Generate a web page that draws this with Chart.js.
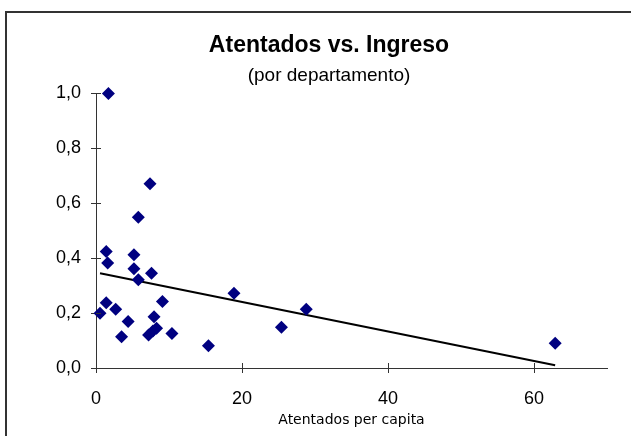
<!DOCTYPE html>
<html>
<head>
<meta charset="utf-8">
<script src="https://cdn.jsdelivr.net/npm/chart.js@4/dist/chart.umd.min.js"></script>
<style>
  html, body { margin: 0; padding: 0; background: #fff; overflow: hidden; }
  #frame { position: absolute; left: 5px; top: 11px; width: 700px; height: 500px; border: 2px solid #333; }
  #graph { position: absolute; left: 0; top: 0; }
</style>
</head>
<body>
<div id="frame"></div>
<canvas id="graph" width="631" height="436"></canvas>
<script>
// atentados per capita (x) vs ingreso (y), one point per departamento
const xValues = [1.7, 7.4, 5.8, 1.4, 1.6, 5.2, 5.2, 5.8, 7.6, 18.9, 28.8, 25.4, 1.4,
                 0.55, 2.7, 9.1, 4.4, 7.95, 8.3, 7.2, 10.4, 3.5, 15.4, 62.9, 7.8];
const yValues = [1.0, 0.671, 0.549, 0.424, 0.382, 0.412, 0.361, 0.321, 0.345, 0.272, 0.214, 0.148, 0.238,
                 0.199, 0.214, 0.242, 0.169, 0.187, 0.145, 0.120, 0.126, 0.114, 0.081, 0.090, 0.135];

// linear trend line as drawn in the picture
const trendX = [0.55, 62.9];
const trendY = [0.345, 0.01];

const xTickValues = [0, 20, 40, 60];
const xTickLabels = ['0', '20', '40', '60'];
const yTickValues = [0, 0.2, 0.4, 0.6, 0.8, 1.0];
const yTickLabels = ['0,0', '0,2', '0,4', '0,6', '0,8', '1,0'];

const FONT = "'Liberation Sans', Arial, sans-serif";
const AXIS = '#333';

// Excel style "cross" tick marks: the part inside the plot area
const innerTicks = {
    id: 'innerTicks',
    afterDraw(chart) {
        const ctx = chart.ctx, area = chart.chartArea;
        ctx.save();
        ctx.strokeStyle = AXIS;
        ctx.lineWidth = 1;
        ctx.beginPath();
        for (const v of xTickValues) {
            const px = Math.round(chart.scales.x.getPixelForValue(v)) + 0.5;
            ctx.moveTo(px, area.bottom);
            ctx.lineTo(px, area.bottom - 5);
        }
        for (const v of yTickValues) {
            const py = Math.round(chart.scales.y.getPixelForValue(v)) + 0.5;
            ctx.moveTo(area.left, py);
            ctx.lineTo(area.left + 5, py);
        }
        ctx.stroke();
        ctx.restore();
    }
};

const chart = new Chart(document.getElementById('graph'), {
    type: 'scatter',
    data: {
        datasets: [{
            data: xValues.map((x, i) => ({x: x, y: yValues[i]})),
            backgroundColor: '#000080',
            borderColor: '#000080',
            borderWidth: 0,
            pointStyle: 'rectRot',
            pointRadius: 6.5,
            pointHoverRadius: 6.5,
            clip: false
        }, {
            type: 'line',
            data: trendX.map((x, i) => ({x: x, y: trendY[i]})),
            borderColor: '#000',
            borderWidth: 2,
            pointRadius: 0,
            fill: false
        }]
    },
    plugins: [innerTicks],
    options: {
        responsive: false,
        animation: false,
        layout: { padding: { left: 51, right: 24, top: 0, bottom: 0 } },
        plugins: {
            legend: { display: false },
            tooltip: { enabled: false },
            title: {
                display: true,
                text: 'Atentados vs. Ingreso',
                color: '#000',
                font: { family: FONT, size: 23, weight: 'bold' },
                padding: { top: 31.5, bottom: 5.5 }
            },
            subtitle: {
                display: true,
                text: '(por departamento)',
                color: '#000',
                font: { family: FONT, size: 19 },
                padding: { top: 0, bottom: 6 }
            }
        },
        scales: {
            x: {
                type: 'linear',
                min: 0,
                max: 70,
                afterFit: s => { s.height = 68; },
                afterBuildTicks: s => { s.ticks = xTickValues.map(v => ({value: v})); },
                grid: { drawOnChartArea: false, drawTicks: true, tickLength: 5, color: AXIS },
                border: { color: AXIS, width: 1 },
                ticks: {
                    padding: 15,
                    color: '#000',
                    font: { family: FONT, size: 18 },
                    callback: (v, i) => xTickLabels[i]
                },
                title: {
                    display: true,
                    text: 'Atentados per capita',
                    color: '#000',
                    font: { family: "'DejaVu Sans', sans-serif", size: 14 },
                    padding: { top: 0, bottom: 7.5 }
                }
            },
            y: {
                type: 'linear',
                min: 0,
                max: 1.0,
                afterFit: s => { s.width = 45; },
                afterBuildTicks: s => { s.ticks = yTickValues.map(v => ({value: v})); },
                grid: { drawOnChartArea: false, drawTicks: true, tickLength: 5, color: AXIS },
                border: { color: AXIS, width: 1 },
                ticks: {
                    padding: 10,
                    color: '#000',
                    font: { family: FONT, size: 18 },
                    callback: (v, i) => yTickLabels[i]
                }
            }
        }
    }
});
</script>
</body>
</html>
